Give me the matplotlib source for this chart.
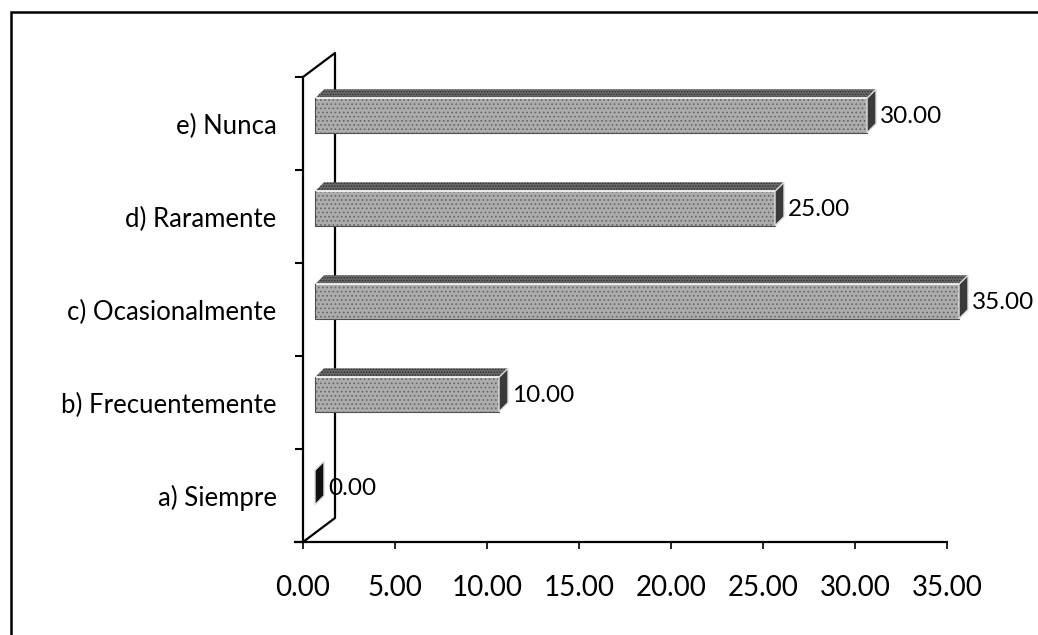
import numpy as np
import matplotlib

matplotlib.use("Agg")
from matplotlib import pyplot as plt
from matplotlib.patches import Polygon, Rectangle
from matplotlib.lines import Line2D

categories = ["a) Siempre", "b) Frecuentemente", "c) Ocasionalmente", "d) Raramente", "e) Nunca"]
values = [0.00, 10.00, 35.00, 25.00, 30.00]
xticks = [0, 5, 10, 15, 20, 25, 30, 35]

plt.rcParams["font.family"] = ["Lato", "DejaVu Sans"]
plt.rcParams["hatch.linewidth"] = 0.7

W, H = 1038, 635
fig = plt.figure(figsize=(W / 100, H / 100), dpi=100)
ax = fig.add_axes([303 / W, 93 / H, 644 / W, 465 / H])
ax.set_xlim(0, 35)
ax.set_ylim(-0.5, 4.5)

# pixel -> data unit conversion for the pseudo 3d offsets
px_x = 35 / 644
px_y = 5 / 465

# back wall
wdx, wdy = 32 * px_x, 24 * px_y
wall = [(0, 4.5), (wdx, 4.5 + wdy), (wdx, -0.5 + wdy), (0, -0.5)]
ax.add_line(Line2D(*zip(*wall), color="black", lw=1.6, clip_on=False, zorder=3))

# bars: front face sits half way into the wall depth
ox, oy = 12 * px_x, 8 * px_y
bdx, bdy = 9 * px_x, 9 * px_y
h = 0.37
for i, v in enumerate(values):
    x0, x1 = ox, v + ox
    yb, yt = i - h / 2 + oy, i + h / 2 + oy
    # top face
    top = [(x0, yt), (x1, yt), (x1 + bdx, yt + bdy), (x0 + bdx, yt + bdy)]
    ax.add_patch(Polygon(top, closed=True, fc="#6a6a6a", ec="none", clip_on=False, zorder=4))
    ax.add_patch(Polygon(top, closed=True, fc="none", ec="#2c2c2c", lw=0, hatch="......",
                         clip_on=False, zorder=4))
    # front face
    if v > 0:
        ax.add_patch(Rectangle((x0, yb), v, yt - yb, fc="#acacac", ec="none", clip_on=False, zorder=4))
        ax.add_patch(Rectangle((x0, yb), v, yt - yb, fc="none", ec="#666666", lw=0, hatch="....",
                               clip_on=False, zorder=4))
        ax.plot([x0, x1], [yt, yt], color="white", lw=1.2, clip_on=False, zorder=5)
        ax.plot([x0, x0, x1], [yt, yb, yb], color="#505050", lw=0.8, clip_on=False, zorder=5)
    # side face
    side = [(x1, yb), (x1, yt), (x1 + bdx, yt + bdy), (x1 + bdx, yb + bdy)]
    ax.add_patch(Polygon(side, closed=True, fc="#3a3a3a" if v > 0 else "#111111", ec="#dddddd",
                         lw=1.0, clip_on=False, zorder=5))
    ax.text(x1 + bdx + 4 * px_x, i + oy - 1 * px_y, f"{v:.2f}", ha="left", va="center",
            fontsize=17.5, color="black", zorder=6)

ax.set_yticks(range(len(categories)))
ax.set_yticklabels(categories, fontsize=18.5)
ax.set_yticks(np.arange(-0.5, 5, 1), minor=True)
ax.tick_params(axis="y", which="major", length=0, pad=19)
ax.tick_params(axis="y", which="minor", length=6, width=1.5, direction="out")

ax.set_xticks(xticks)
ax.set_xticklabels([f"{t:.2f}" for t in xticks], fontsize=20)
ax.tick_params(axis="x", length=5, width=1.2, direction="out", pad=19)

for s in ["top", "right"]:
    ax.spines[s].set_visible(False)
ax.spines["left"].set_linewidth(1.6)
ax.spines["bottom"].set_linewidth(1.6)
ax.spines["bottom"].set_bounds(-8 * px_x, 35)

# frame around the whole chart
fig.add_artist(Rectangle((11 / W, -0.1), 1.2, 1 - 12 / H + 0.1, transform=fig.transFigure,
                         fill=False, ec="black", lw=1.8))

fig.savefig("out.png", dpi=100)
